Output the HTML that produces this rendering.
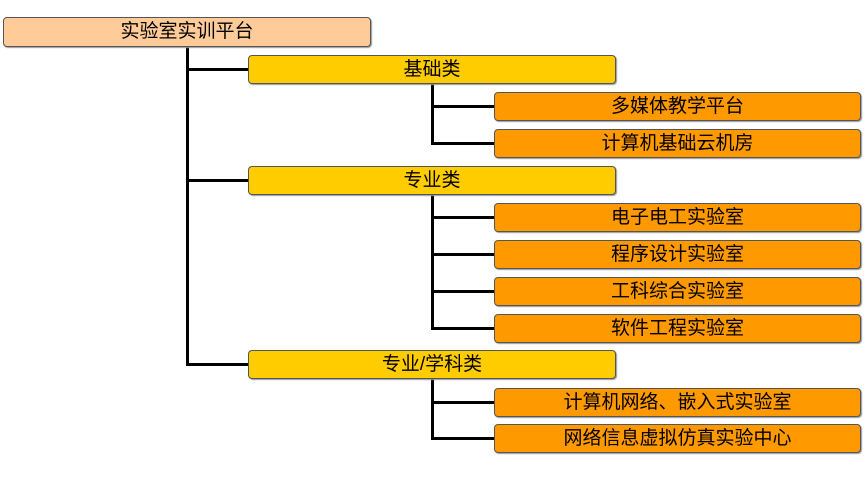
<!DOCTYPE html>
<html><head><meta charset="utf-8"><style>
body{margin:0;width:865px;height:480px;background:#fff;position:relative;overflow:hidden;font-family:"Liberation Sans","Noto Sans CJK SC",sans-serif}
.b{position:absolute;box-sizing:border-box;border:1px solid #555;border-radius:4px;text-align:center;font-size:19px;color:#000;box-shadow:1px 1px 1px #999}
.r{background:#ffcc99}.c{background:#ffcc00}.l{background:#ff9900}
.h,.v{position:absolute;background:#000}
.h{height:3px}.v{width:3px}
</style></head><body>
<div class="v" style="left:186px;top:46px;height:320px"></div>
<div class="h" style="left:186px;top:68px;width:62px"></div>
<div class="h" style="left:186px;top:179px;width:62px"></div>
<div class="h" style="left:186px;top:363px;width:62px"></div>
<div class="v" style="left:431px;top:83px;height:62px"></div>
<div class="h" style="left:431px;top:105px;width:63px"></div>
<div class="h" style="left:431px;top:142px;width:63px"></div>
<div class="v" style="left:431px;top:194px;height:136px"></div>
<div class="h" style="left:431px;top:216px;width:63px"></div>
<div class="h" style="left:431px;top:253px;width:63px"></div>
<div class="h" style="left:431px;top:290px;width:63px"></div>
<div class="h" style="left:431px;top:327px;width:63px"></div>
<div class="v" style="left:431px;top:379px;height:61px"></div>
<div class="h" style="left:431px;top:401px;width:63px"></div>
<div class="h" style="left:431px;top:437px;width:63px"></div>

<div class="b r" style="left:3px;top:17px;width:368px;height:30px;line-height:28px">实验室实训平台</div>
<div class="b c" style="left:248px;top:55px;width:368px;height:29px;line-height:27px">基础类</div>
<div class="b c" style="left:248px;top:166px;width:368px;height:29px;line-height:27px">专业类</div>
<div class="b c" style="left:248px;top:350px;width:368px;height:29px;line-height:27px">专业/学科类</div>
<div class="b l" style="left:494px;top:92px;width:367px;height:29px;line-height:27px">多媒体教学平台</div>
<div class="b l" style="left:494px;top:129px;width:367px;height:29px;line-height:27px">计算机基础云机房</div>
<div class="b l" style="left:494px;top:203px;width:367px;height:29px;line-height:27px">电子电工实验室</div>
<div class="b l" style="left:494px;top:240px;width:367px;height:29px;line-height:27px">程序设计实验室</div>
<div class="b l" style="left:494px;top:277px;width:367px;height:29px;line-height:27px">工科综合实验室</div>
<div class="b l" style="left:494px;top:314px;width:367px;height:29px;line-height:27px">软件工程实验室</div>
<div class="b l" style="left:494px;top:388px;width:367px;height:29px;line-height:27px">计算机网络、嵌入式实验室</div>
<div class="b l" style="left:494px;top:424px;width:367px;height:29px;line-height:27px">网络信息虚拟仿真实验中心</div>
</body></html>
